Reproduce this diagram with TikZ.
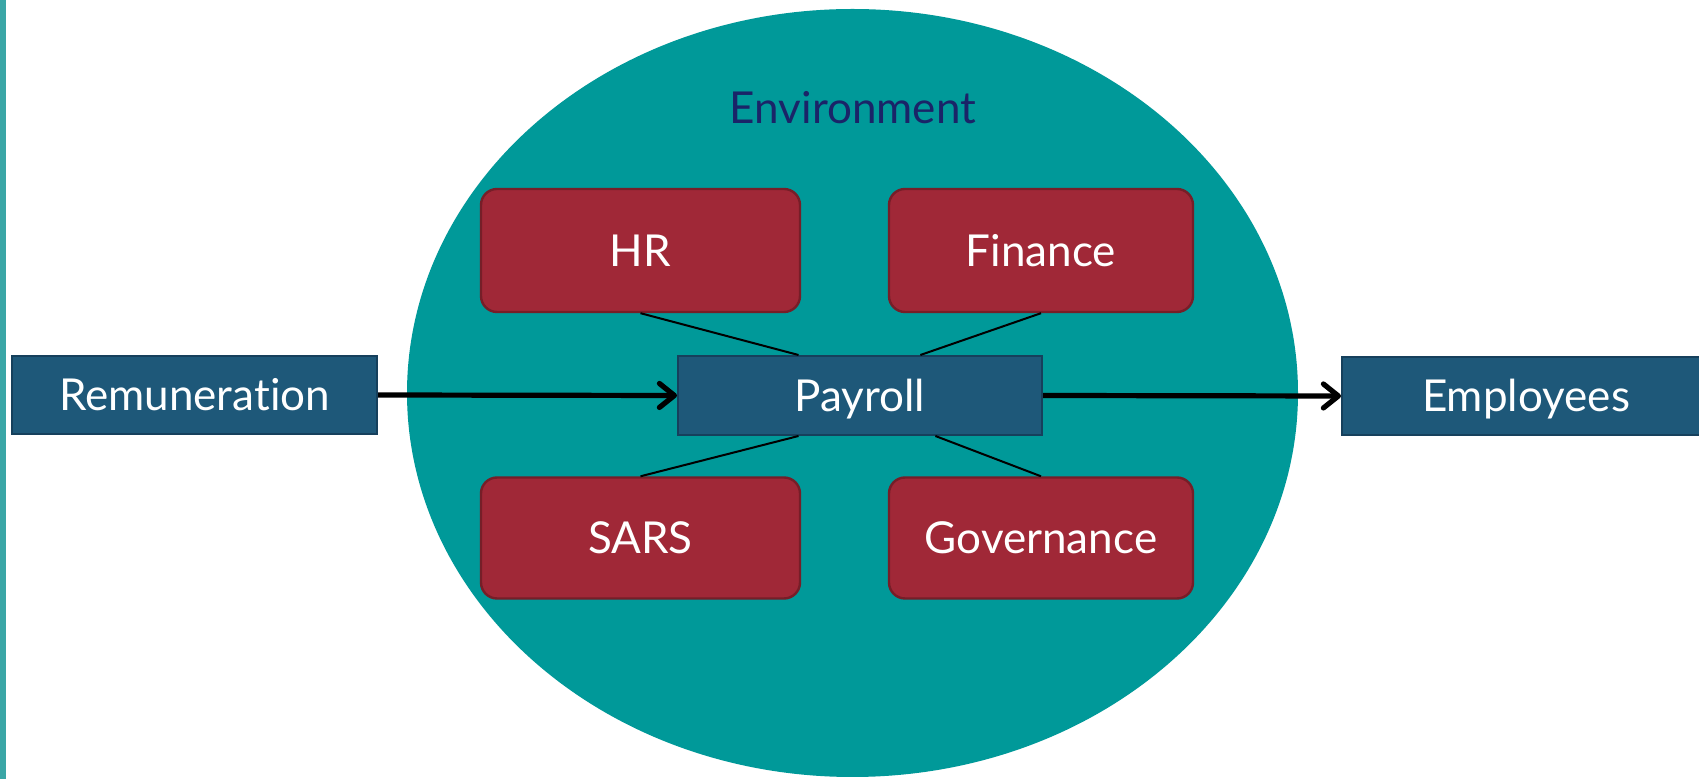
\documentclass[tikz,border=0pt]{standalone}
\usepackage{fontspec}
\setmainfont{Lato}[Ligatures={NoCommon}]
\usetikzlibrary{shapes.geometric,arrows.meta,calc}
\definecolor{envteal}{RGB}{0,153,153}
\definecolor{stripteal}{RGB}{58,166,166}
\definecolor{boxblue}{RGB}{30,88,121}
\definecolor{boxblueedge}{RGB}{22,64,92}
\definecolor{boxred}{RGB}{160,40,55}
\definecolor{boxrededge}{RGB}{118,30,40}
\definecolor{envnavy}{RGB}{26,36,104}
\tikzset{
  lbl/.style={font=\fontsize{22}{27}\selectfont, text height=15.8pt, text depth=0pt},
  bluebox/.style={draw=boxblueedge, line width=1pt, fill=boxblue, text=white, inner sep=0pt, lbl},
  redbox/.style={draw=boxrededge, line width=1.2pt, fill=boxred, text=white, rounded corners=8pt, inner sep=0pt, lbl},
  thinlink/.style={draw=black, line width=1pt},
  flow/.style={draw=black, line width=2.6pt, -{Straight Barb[length=7.5pt,width=12pt,line cap=round,line join=round]}},
}
\begin{document}
\begin{tikzpicture}[x=0.5pt,y=-0.5pt]
\useasboundingbox (0,0) rectangle (1699,779);
\fill[white] (0,0) rectangle (1699,779);
\fill[stripteal] (0,0) rectangle (6,779);
\node[ellipse, fill=envteal, inner sep=0pt, minimum width=445.5pt, minimum height=384pt] (env) at (852.5,393) {};
\node[text=envnavy, lbl] (envlabel) at (853,108) {Environment};
\node[redbox, minimum width=159.5pt, minimum height=61.5pt] (hr) at (640.5,250.5) {HR};
\node[redbox, minimum width=152pt, minimum height=61.5pt] (fin) at (1041,250.5) {Finance};
\node[redbox, minimum width=159.5pt, minimum height=60.5pt] (sars) at (640.5,538) {SARS};
\node[redbox, minimum width=152pt, minimum height=60.5pt] (gov) at (1041,538) {Governance};
\node[bluebox, minimum width=182.5pt, minimum height=39pt] (rem) at (194.5,395) {Remuneration};
\node[bluebox, minimum width=182pt, minimum height=39.5pt] (pay) at (860,395.5) {Payroll};
\node[bluebox, minimum width=184pt, minimum height=39pt] (emp) at (1526,396) {Employees};
\draw[thinlink] (hr.south) -- ($(pay.north west)!0.332!(pay.north east)$);
\draw[thinlink] (fin.south) -- ($(pay.north west)!0.665!(pay.north east)$);
\draw[thinlink] (sars.north) -- ($(pay.south west)!0.332!(pay.south east)$);
\draw[thinlink] (gov.north) -- ($(pay.south west)!0.706!(pay.south east)$);
\draw[flow] (rem.east) -- (pay.west);
\draw[flow] (pay.east) -- (emp.west);
\end{tikzpicture}
\end{document}
